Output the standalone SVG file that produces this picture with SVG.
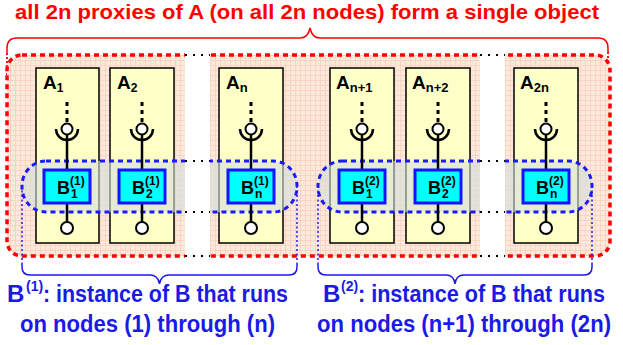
<svg xmlns="http://www.w3.org/2000/svg" width="623" height="345" viewBox="0 0 623 345">
<style>
.abox{fill:#ffffc8;stroke:#000;stroke-width:1.5}
.bbox{fill:#00ffff;stroke:#1414ff;stroke-width:3}
.lbl{font-family:"Liberation Sans",Arial,sans-serif;font-weight:bold;fill:#000}
.sock{fill:#fff;stroke:#000;stroke-width:2}
.cup{fill:none;stroke:#000;stroke-width:2.5}
.wire{stroke:#000;stroke-width:2.5}
.dash{stroke:#000;stroke-width:3;stroke-dasharray:4 4}
.pill{fill:#d3e0da;fill-opacity:.6;stroke:#1a1aff;stroke-width:3;stroke-dasharray:5 4}
.dots{stroke:#000;stroke-width:2;stroke-dasharray:2 6}
.red{font-family:"Liberation Sans",Arial,sans-serif;font-weight:bold;fill:#ff0000}
.blue{font-family:"Liberation Sans",Arial,sans-serif;font-weight:bold;fill:#1a1ae6}
.bbrace{fill:none;stroke:#1a1ae6;stroke-width:1.5}
.bdot{fill:none;stroke:#1a1ae6;stroke-width:1.5;stroke-dasharray:2 2.5}
</style>
<defs>
<pattern id="grid" width="5" height="5" patternUnits="userSpaceOnUse">
<rect width="5" height="5" fill="#fde8dc"/>
<path d="M0 0.5H5M0.5 0V5" stroke="#f9d2bb" stroke-width="0.8"/>
</pattern>
</defs>
<rect width="623" height="345" fill="#fff"/>

<!-- top label and brace -->
<text class="red" x="15" y="19" font-size="21" textLength="584" lengthAdjust="spacingAndGlyphs">all 2n proxies of A (on all 2n nodes) form a single object</text>
<path d="M7,53 V48 Q7,38 17,38 H300 Q308,38 310,28 Q312,38 320,38 H598 Q608,38 608,48 V52" fill="none" stroke="#ff0000" stroke-width="1.5"/>
<path d="M7,53 V80 M608,52 V110" fill="none" stroke="#ff0000" stroke-width="1.8" stroke-dasharray="2 2"/>

<!-- object region -->
<g id="object">
<rect x="7" y="55" width="603" height="201" rx="15" fill="url(#grid)" stroke="#ff0000" stroke-width="3.5" stroke-dasharray="5 4"/>
</g>

<!-- A proxies -->
<g id="A1"><rect class="abox" x="36" y="68" width="63" height="175"/><text class="lbl" x="43" y="89" font-size="19">A<tspan font-size="12" dy="3">1</tspan></text><path class="cup" d="M56,129 A11,11 0 0 0 78,129"/><circle class="sock" cx="67" cy="129" r="5.5"/><circle class="sock" cx="67" cy="228" r="6"/></g>
<g id="A2"><rect class="abox" x="110" y="68" width="64" height="175"/><text class="lbl" x="117" y="89" font-size="19">A<tspan font-size="12" dy="3">2</tspan></text><path class="cup" d="M131,129 A11,11 0 0 0 153,129"/><circle class="sock" cx="142" cy="129" r="5.5"/><circle class="sock" cx="142" cy="228" r="6"/></g>
<g id="An"><rect class="abox" x="219" y="68" width="64" height="175"/><text class="lbl" x="226" y="89" font-size="19">A<tspan font-size="13" dy="3">n</tspan></text><path class="cup" d="M240,129 A11,11 0 0 0 262,129"/><circle class="sock" cx="251" cy="129" r="5.5"/><circle class="sock" cx="251" cy="228" r="6"/></g>
<g id="An1"><rect class="abox" x="330" y="68" width="64" height="175"/><text class="lbl" x="336" y="89" font-size="19">A<tspan font-size="13" dy="3">n+1</tspan></text><path class="cup" d="M351,129 A11,11 0 0 0 373,129"/><circle class="sock" cx="362" cy="129" r="5.5"/><circle class="sock" cx="362" cy="228" r="6"/></g>
<g id="An2"><rect class="abox" x="406" y="68" width="64" height="175"/><text class="lbl" x="412" y="89" font-size="19">A<tspan font-size="13" dy="3">n+2</tspan></text><path class="cup" d="M427,129 A11,11 0 0 0 449,129"/><circle class="sock" cx="438" cy="129" r="5.5"/><circle class="sock" cx="438" cy="228" r="6"/></g>
<g id="A2n"><rect class="abox" x="514" y="68" width="64" height="175"/><text class="lbl" x="520" y="89" font-size="19">A<tspan font-size="13" dy="3">2n</tspan></text><path class="cup" d="M535,129 A11,11 0 0 0 557,129"/><circle class="sock" cx="546" cy="129" r="5.5"/><circle class="sock" cx="546" cy="228" r="6"/></g>

<!-- B instances (pills) -->
<g id="B1inst"><rect class="pill" x="22" y="161" width="275" height="51" rx="24" ry="25"/></g>
<g id="B2inst"><rect class="pill" x="318" y="161" width="274" height="51" rx="24" ry="25"/></g>

<!-- gaps with ellipsis dots -->
<rect x="185" y="48" width="25" height="214" fill="#fff"/>
<rect x="480" y="48" width="25" height="214" fill="#fff"/>
<path class="dots" d="M185,55H210M185,161H210M185,212H210M185,256H210M480,55H505M480,161H505M480,212H505M480,256H505"/>

<!-- connectors -->
<g id="connectors">
<path class="dash" d="M67,102V122M142,102V122M251,102V122M362,102V122M438,102V122M546,102V122"/>
<path class="wire" d="M67,135V170M67,203V222M142,135V170M142,203V222M251,135V170M251,203V222M362,135V170M362,203V222M438,135V170M438,203V222M546,135V170M546,203V222"/>
</g>

<!-- B proxies -->
<g id="B1_1"><rect class="bbox" x="44" y="170" width="46" height="33"/><text class="lbl" x="57" y="194" font-size="18">B</text><text class="lbl" x="70" y="185" font-size="12">(1)</text><text class="lbl" x="71" y="198" font-size="12">1</text></g>
<g id="B1_2"><rect class="bbox" x="119" y="170" width="46" height="33"/><text class="lbl" x="132" y="194" font-size="18">B</text><text class="lbl" x="145" y="185" font-size="12">(1)</text><text class="lbl" x="146" y="198" font-size="12">2</text></g>
<g id="B1_n"><rect class="bbox" x="228" y="170" width="46" height="33"/><text class="lbl" x="241" y="194" font-size="18">B</text><text class="lbl" x="254" y="185" font-size="12">(1)</text><text class="lbl" x="255" y="198" font-size="12">n</text></g>
<g id="B2_1"><rect class="bbox" x="339" y="170" width="46" height="33"/><text class="lbl" x="352" y="194" font-size="18">B</text><text class="lbl" x="365" y="185" font-size="12">(2)</text><text class="lbl" x="366" y="198" font-size="12">1</text></g>
<g id="B2_2"><rect class="bbox" x="415" y="170" width="46" height="33"/><text class="lbl" x="428" y="194" font-size="18">B</text><text class="lbl" x="441" y="185" font-size="12">(2)</text><text class="lbl" x="442" y="198" font-size="12">2</text></g>
<g id="B2_n"><rect class="bbox" x="523" y="170" width="46" height="33"/><text class="lbl" x="536" y="194" font-size="18">B</text><text class="lbl" x="549" y="185" font-size="12">(2)</text><text class="lbl" x="550" y="198" font-size="12">n</text></g>

<!-- bottom braces -->
<path class="bdot" d="M22,186V263M297,186V263M318,186V263M592,186V263"/>
<path class="bbrace" d="M22,263V267Q22,275 30,275H150Q158,275 159.5,284Q161,275 169,275H289Q297,275 297,267V263"/>
<path class="bbrace" d="M318,263V267Q318,275 326,275H446Q454,275 455,284Q456,275 464,275H584Q592,275 592,267V263"/>

<!-- bottom labels -->
<text class="blue" x="7" y="302" font-size="24">B</text>
<text class="blue" x="26" y="291" font-size="14">(1)</text>
<text class="blue" x="43" y="302" font-size="23" textLength="245" lengthAdjust="spacingAndGlyphs">: instance of B that runs</text>
<text class="blue" x="20" y="332" font-size="23" textLength="255" lengthAdjust="spacingAndGlyphs">on nodes (1) through (n)</text>
<text class="blue" x="323" y="302" font-size="24">B</text>
<text class="blue" x="341" y="291" font-size="14">(2)</text>
<text class="blue" x="358" y="302" font-size="23" textLength="247" lengthAdjust="spacingAndGlyphs">: instance of B that runs</text>
<text class="blue" x="317" y="332" font-size="23" textLength="294" lengthAdjust="spacingAndGlyphs">on nodes (n+1) through (2n)</text>
</svg>
